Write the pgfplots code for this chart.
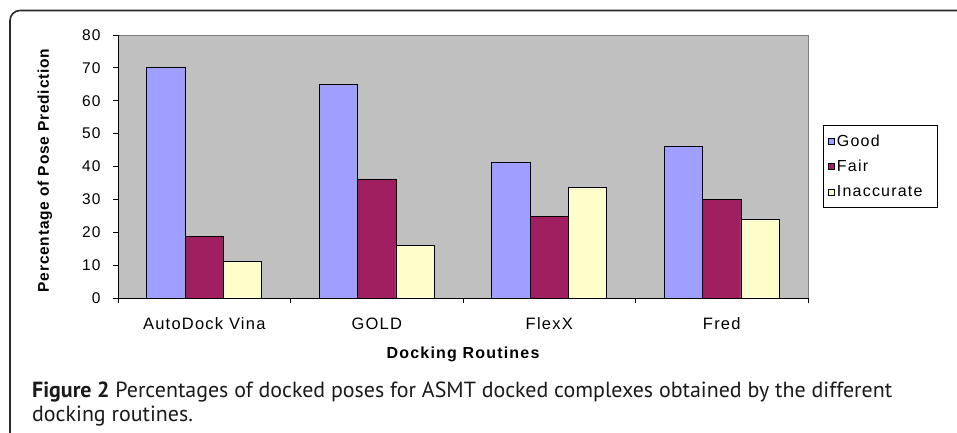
\documentclass[border=0pt]{standalone}
\usepackage{fontspec}
\usepackage{pgfplots}
\pgfplotsset{compat=1.18}
\setmainfont{Liberation Sans}
\newfontfamily\chartfont[LetterSpace=7.5]{Liberation Sans}
\newfontfamily\ylabfont[LetterSpace=5]{Liberation Sans}
\newfontfamily\capfont{PT Sans}
\definecolor{good}{HTML}{9F9FFF}
\definecolor{fair}{HTML}{A01F60}
\definecolor{inacc}{HTML}{FFFFCC}
\definecolor{plotbg}{HTML}{C0C0C0}
\definecolor{plotedge}{HTML}{808080}
\definecolor{captext}{HTML}{1A1A1A}
\definecolor{frame}{HTML}{2A2A2A}
\newlength\capw
\pgfplotsset{
  mybar/.style={ybar, bar width=0.2222, draw=black, line width=0.8pt,
    legend image code/.code={\draw[##1, draw=black, line width=0.6pt] (1pt,-3pt) rectangle (7pt,3pt);}},
}
\begin{document}
\settowidth\capw{\fontsize{20pt}{24pt}\selectfont\capfont\textbf{Figure 2} Percentages of docked poses for ASMT docked complexes obtained by the different}%
\pgfmathsetmacro\capfs{860/\capw*20}%
\begin{tikzpicture}
\fill[white] (0pt,0pt) rectangle (957pt,432pt);
\useasboundingbox (0pt,0pt) rectangle (957pt,432pt);
\draw[frame, line width=1.6pt, rounded corners=10pt] (10pt,-10pt) -- (10pt,421.5pt) -- (970pt,421.5pt);
\begin{axis}[
  at={(118pt,134pt)}, anchor=south west,
  scale only axis, width=690pt, height=263pt,
  xmin=-0.5, xmax=3.5, ymin=0, ymax=80,
  axis lines=left, axis line style={-, black, line width=1pt},
  axis background/.style={fill=plotbg, draw=plotedge, line width=1pt},
  ytick={0,10,20,30,40,50,60,70,80},
  xtick={0,1,2,3}, xticklabels={AutoDock Vina,GOLD,FlexX,Fred},
  minor xtick={-0.5,0.5,1.5,2.5,3.5},
  tick align=outside, major tick length=5pt, minor tick length=5pt,
  tick style={black, line width=0.8pt},
  major x tick style={draw=none},
  /pgf/number format/assume math mode=true,
  tick label style={black},
  yticklabel style={font=\chartfont\fontsize{15.5pt}{18pt}\selectfont, xshift=-9pt},
  xticklabel style={font=\chartfont\fontsize{16.5pt}{18pt}\selectfont, anchor=base, yshift=-26pt},
  ylabel={Percentage of Pose Prediction},
  ylabel style={at={(axis description cs:-0.1058,0.485)}, anchor=center, font=\ylabfont\bfseries\fontsize{15.5pt}{18pt}\selectfont},
  xlabel={Docking Routines},
  xlabel style={at={(axis description cs:0.5,-0.2319)}, anchor=base, font=\chartfont\bfseries\fontsize{16pt}{18pt}\selectfont},
  legend style={at={(axis description cs:1.0217,0.6578)}, anchor=north west, draw=black, line width=0.8pt, fill=white,
    font=\chartfont\fontsize{16pt}{18pt}\selectfont, inner xsep=5pt, inner ysep=7pt, row sep=8.5pt},
  legend cell align=left,
]
\addplot[mybar, bar shift=-0.2222, fill=good] coordinates {(0,70) (1,65) (2,41.2) (3,46)};
\addplot[mybar, bar shift=0, fill=fair] coordinates {(0,18.7) (1,36.1) (2,24.7) (3,30)};
\addplot[mybar, bar shift=0.2222, fill=inacc] coordinates {(0,11.1) (1,15.9) (2,33.6) (3,23.9)};
\legend{Good,Fair,Inaccurate\hspace*{8pt}}
\end{axis}
\node[anchor=base west, inner sep=0pt, text=captext, font=\fontsize{\capfs pt}{24pt}\selectfont\capfont] at (32pt,35pt) {\textbf{Figure 2} Percentages of docked poses for ASMT docked complexes obtained by the different};
\node[anchor=base west, inner sep=0pt, text=captext, font=\fontsize{\capfs pt}{24pt}\selectfont\capfont] at (32pt,11pt) {docking routines.};
\end{tikzpicture}
\end{document}
